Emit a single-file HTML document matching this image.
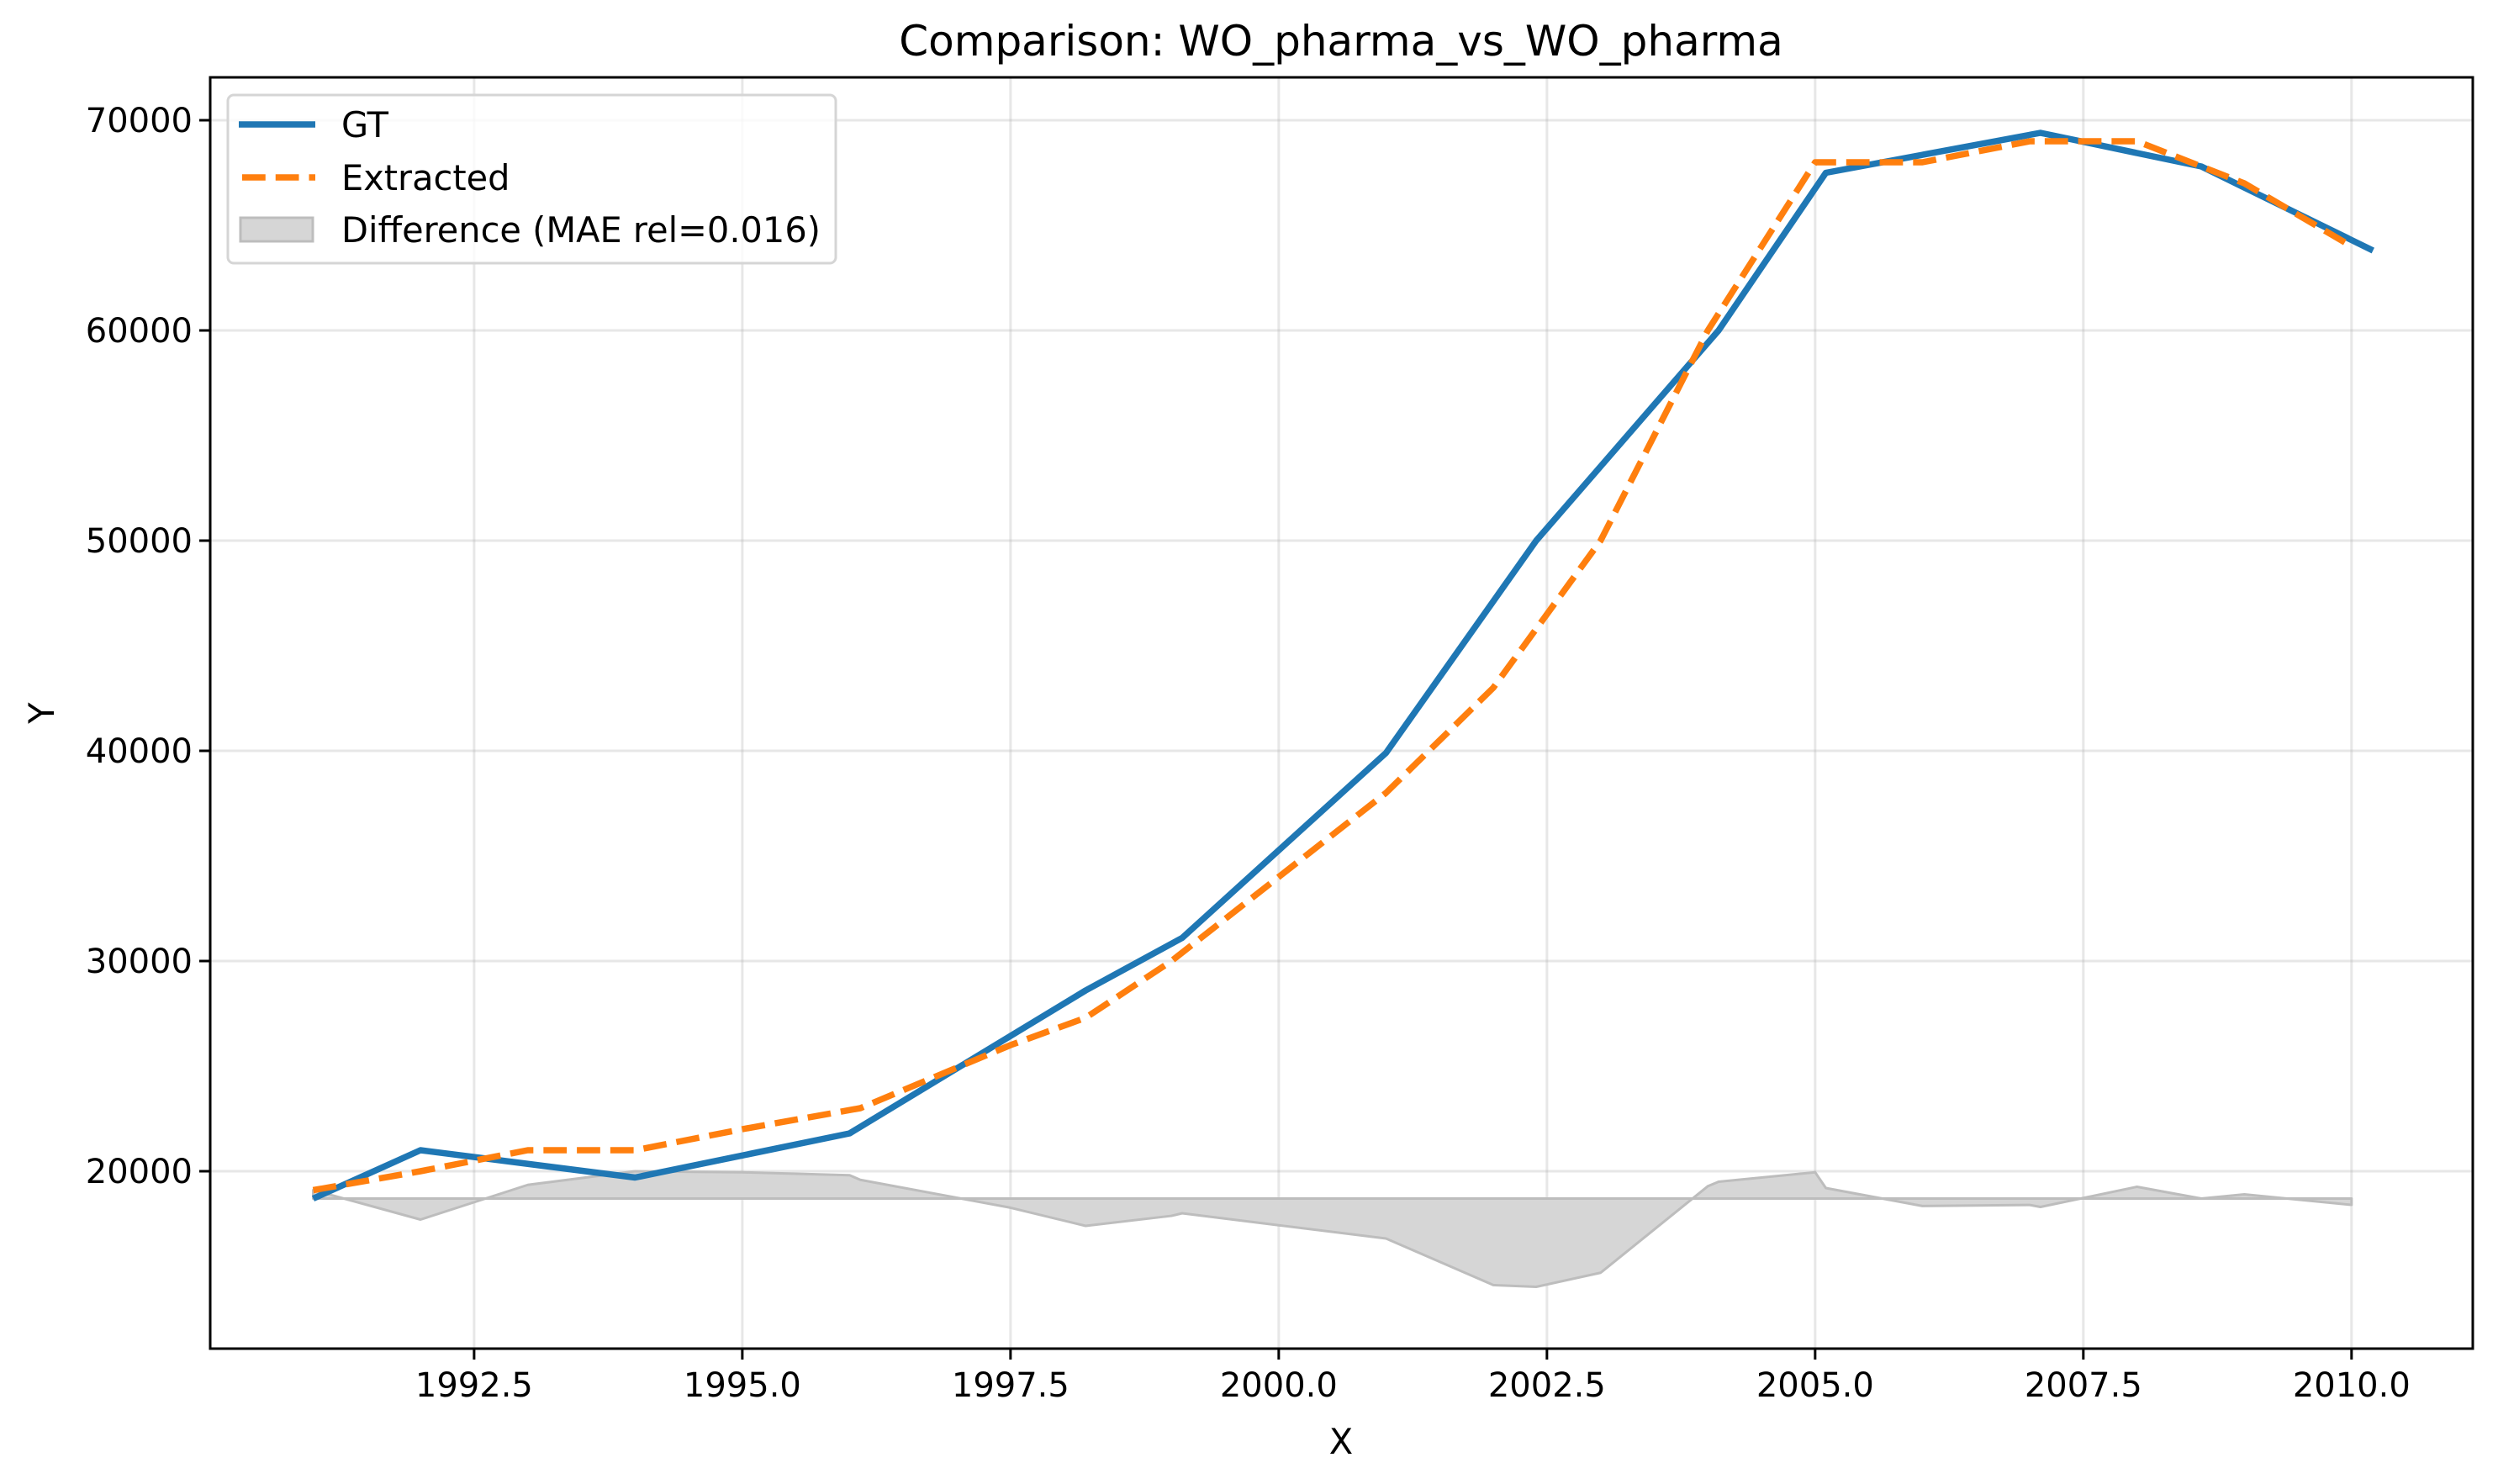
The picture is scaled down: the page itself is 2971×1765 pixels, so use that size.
<!DOCTYPE html>
<html><head><meta charset="utf-8"><style>
html,body{margin:0;padding:0;background:#fff;}
svg{display:block;font-family:"DejaVu Sans","Liberation Sans",sans-serif;}
</style></head><body>
<svg id="chart" width="2971" height="1765" viewBox="0 0 2971 1765" xmlns="http://www.w3.org/2000/svg">
<rect width="2971" height="1765" fill="#fff"/>
<g id="grid"></g>
<g id="diff"></g>
<g id="series"></g>
<g id="axes"></g>
<text x="1595" y="66" font-size="50" text-anchor="middle">Comparison: WO_pharma_vs_WO_pharma</text>
<text x="1595" y="1729" font-size="41.5" text-anchor="middle">X</text>
<text x="64" y="848" font-size="41.5" text-anchor="middle" transform="rotate(-90 64 848)">Y</text>
<g>
<rect x="271" y="113" width="723" height="200" rx="7" fill="#fff" fill-opacity="0.8" stroke="#d5d5d5" stroke-width="3"/>
<line x1="284" y1="148" x2="375" y2="148" stroke="#1f77b4" stroke-width="7.5"/>
<text x="406" y="163" font-size="41.5">GT</text>
<line x1="288" y1="211" x2="375" y2="211" stroke="#ff7f0e" stroke-width="7.5" stroke-dasharray="27.75,12"/>
<text x="406" y="226" font-size="41.5">Extracted</text>
<rect x="286" y="259" width="86" height="28" fill="#d6d6d6" stroke="#bdbdbd" stroke-width="3"/>
<text x="406" y="288" font-size="41.5">Difference (MAE rel=0.016)</text>
</g>
</svg>
<script>
const gtX = [1991.0, 1992.0, 1994.0, 1996.0, 1998.2, 1999.1, 2001.0, 2002.4, 2004.1, 2005.1, 2007.1, 2008.6, 2010.2];
const gtY = [18700, 21000, 19700, 21800, 28600, 31100, 39900, 50000, 60000, 67500, 69400, 67800, 63800];
const exX = [1991.0, 1992.0, 1993.0, 1994.0, 1995.0, 1996.1, 1997.5, 1998.2, 1999.0, 2000.0, 2001.0, 2002.0, 2003.0, 2004.0, 2005.0, 2006.0, 2007.0, 2008.0, 2009.0, 2010.0];
const exY = [19100, 20000, 21000, 21000, 22000, 23000, 26000, 27300, 30000, 34000, 38000, 43000, 50000, 60000, 68000, 68000, 69000, 69000, 67000, 64000];
const diffBase = 18700;
const xTicks = [1992.5, 1995.0, 1997.5, 2000.0, 2002.5, 2005.0, 2007.5, 2010.0];
const xTickLabels = ["1992.5", "1995.0", "1997.5", "2000.0", "2002.5", "2005.0", "2007.5", "2010.0"];
const yTicks = [20000, 30000, 40000, 50000, 60000, 70000];
const yTickLabels = ["20000", "30000", "40000", "50000", "60000", "70000"];

const L=250,R=2941,T=92,B=1604;
const X0=1990.04,X1=2011.13,Y0=11560,Y1=72040;
const sx=v=>L+(v-X0)/(X1-X0)*(R-L);
const sy=v=>B-(v-Y0)/(Y1-Y0)*(B-T);
const NS="http://www.w3.org/2000/svg";
function mk(tag,attrs,parent){const e=document.createElementNS(NS,tag);for(const k in attrs)e.setAttribute(k,attrs[k]);parent.appendChild(e);return e;}
const grid=document.getElementById('grid'),axes=document.getElementById('axes'),ser=document.getElementById('series'),diff=document.getElementById('diff');

xTicks.forEach((t,i)=>{
  const g=mk('line',{x1:sx(t),x2:sx(t),y1:T,y2:B,stroke:'#b0b0b0','stroke-opacity':0.3,'stroke-width':3},grid);
  
  
  const tk=mk('line',{x1:sx(t),x2:sx(t),y1:B,y2:B+13,stroke:'#000','stroke-width':3},axes);
  
  
  const tx=mk('text',{x:sx(t),y:B+57,'font-size':40,'text-anchor':'middle'},axes);
  tx.textContent=xTickLabels[i];
  
  
});
yTicks.forEach((t,i)=>{
  const g=mk('line',{x1:L,x2:R,y1:sy(t),y2:sy(t),stroke:'#b0b0b0','stroke-opacity':0.3,'stroke-width':3},grid);
  
  
  const tk=mk('line',{x1:L-13,x2:L,y1:sy(t),y2:sy(t),stroke:'#000','stroke-width':3},axes);
  
  
  const tx=mk('text',{x:L-21,y:sy(t)+14,'font-size':40,'text-anchor':'end'},axes);
  tx.textContent=yTickLabels[i];
  
  
});
const frame=mk('rect',{x:L,y:T,width:R-L,height:B-T,fill:'none',stroke:'#000','stroke-width':3},axes);



function interp(xs,ys,x){
  if(x<=xs[0])return ys[0];
  if(x>=xs[xs.length-1])return ys[ys.length-1];
  for(let i=1;i<xs.length;i++){if(x<=xs[i]){const f=(x-xs[i-1])/(xs[i]-xs[i-1]);return ys[i-1]+f*(ys[i]-ys[i-1]);}}
}
const lo=Math.max(gtX[0],exX[0]),hi=Math.min(gtX[gtX.length-1],exX[exX.length-1]);
const ux=[...new Set(gtX.concat(exX))].filter(x=>x>=lo&&x<=hi).sort((a,b)=>a-b);
const dv=ux.map(x=>diffBase+interp(exX,exY,x)-interp(gtX,gtY,x));
let d='M'+ux.map((x,i)=>sx(x)+','+sy(dv[i])).join(' L');
d+=' L'+sx(ux[ux.length-1])+','+sy(diffBase)+' L'+sx(ux[0])+','+sy(diffBase)+'Z';
const area=mk('path',{d:d,fill:'#d6d6d6',stroke:'#bdbdbd','stroke-width':3,'stroke-linejoin':'round'},diff);



const gtLine=mk('polyline',{points:gtX.map((x,i)=>sx(x)+','+sy(gtY[i])).join(' '),fill:'none',stroke:'#1f77b4','stroke-width':7.5,'stroke-linejoin':'round'},ser);


const exLine=mk('polyline',{points:exX.map((x,i)=>sx(x)+','+sy(exY[i])).join(' '),fill:'none',stroke:'#ff7f0e','stroke-width':7.5,'stroke-dasharray':'27.75,12','stroke-linejoin':'round'},ser);


</script>
</body></html>
